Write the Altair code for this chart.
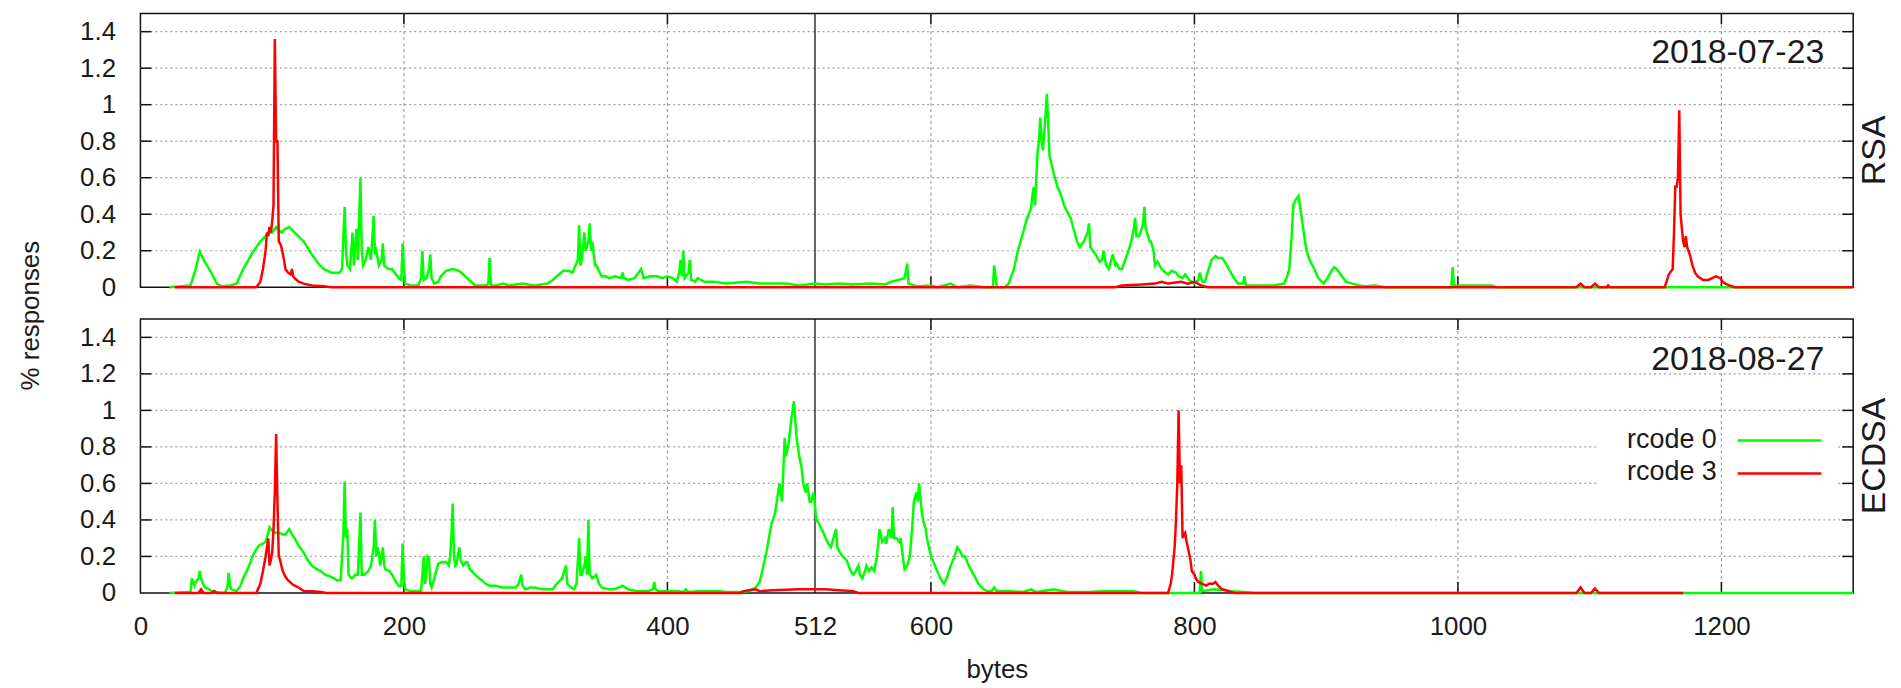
import pandas as pd
import altair as alt

# ---------------- data (bytes, % responses) ----------------
RSA_RCODE0 = [(22,0),(38,0.01),(42,0.1),(45,0.195),(48,0.15),(53,0.09),(58,0.02),(62,0.005),(68,0.01),(73,0.02),
(78,0.1),(82,0.15),(86,0.2),(91,0.25),(95,0.28),(97,0.3),(100,0.3),(103,0.33),(107,0.3),(110,0.32),(113,0.33),
(117,0.3),(121,0.27),(124,0.25),(130,0.18),(135,0.13),(139,0.1),(145,0.08),(151,0.08),(153,0.1),(155,0.44),
(156,0.2),(157,0.12),(159,0.1),(161,0.3),(162,0.12),(164,0.32),(165,0.15),(167,0.6),(168,0.2),(169,0.12),
(171,0.15),(173,0.22),(175,0.15),(177,0.39),(178,0.18),(179,0.2),(181,0.12),(183,0.15),(184,0.24),(185,0.12),
(188,0.1),(191,0.1),(194,0.07),(196,0.05),(198,0.04),(199,0.24),(200,0.1),(201,0.02),(205,0.01),(211,0.01),
(213,0.05),(214,0.2),(215,0.04),(217,0.05),(219,0.1),(220,0.18),(221,0.05),(223,0.02),(226,0.03),(228,0.06),
(232,0.09),(237,0.1),(242,0.09),(245,0.07),(248,0.05),(251,0.03),(254,0.01),(258,0.01),(262,0.01),(264,0.02),
(265,0.16),(266,0.01),(270,0.01),(275,0.02),(280,0.01),(290,0.02),(299,0.01),(309,0.02),(313,0.04),(316,0.06),
(321,0.09),(325,0.09),(328,0.08),(332,0.15),(333,0.34),(334,0.12),(335,0.15),(337,0.3),(338,0.2),(340,0.25),
(341,0.35),(342,0.2),(343,0.25),(345,0.12),(346,0.12),(350,0.06),(353,0.06),(356,0.05),(360,0.06),(365,0.05),
(366,0.08),(367,0.05),(370,0.04),(375,0.05),(380,0.1),(382,0.05),(387,0.06),(392,0.06),(396,0.05),(400,0.06),
(404,0.05),(407,0.03),(409,0.08),(410,0.15),(411,0.06),(412,0.2),(413,0.05),(416,0.08),(417,0.15),(418,0.04),
(421,0.03),(423,0.05),(428,0.03),(435,0.03),(445,0.02),(460,0.03),(470,0.02),(490,0.02),(500,0.01),(512,0.02),
(520,0.015),(530,0.02),(540,0.015),(555,0.02),(565,0.015),(570,0.03),(575,0.04),(580,0.05),(582,0.13),(583,0.02),
(590,0.005),(600,0.01),(605,0.0),(615,0.02),(620,0.0),(630,0.01),(640,0.0),(647,0.0),(648,0.12),(650,0.0),
(656,0.0),(659,0.02),(663,0.1),(666,0.2),(670,0.3),(673,0.38),(676,0.43),(677,0.5),(678,0.55),(679,0.45),
(681,0.75),(682,0.8),(683,0.93),(684,0.8),(685,0.75),(686,0.85),(687,0.95),(688,1.06),(689,0.9),(690,0.72),
(693,0.63),(696,0.55),(699,0.5),(701,0.45),(703,0.42),(706,0.38),(709,0.3),(711,0.25),(713,0.22),(716,0.25),
(719,0.3),(720,0.35),(721,0.22),(723,0.2),(725,0.18),(728,0.14),(730,0.15),(731,0.2),(733,0.12),(735,0.1),
(738,0.18),(740,0.12),(741,0.13),(743,0.1),(745,0.1),(748,0.16),(750,0.2),(752,0.25),(754,0.32),(755,0.38),
(756,0.28),(758,0.28),(760,0.32),(761,0.35),(762,0.44),(763,0.32),(764,0.3),(766,0.25),(767,0.25),(769,0.2),
(770,0.12),(772,0.14),(775,0.1),(778,0.08),(780,0.07),(783,0.09),(786,0.08),(788,0.06),(791,0.05),(793,0.07),
(796,0.04),(800,0.02),(803,0.04),(804,0.08),(806,0.03),(808,0.03),(810,0.08),(813,0.15),(816,0.17),(818,0.16),
(821,0.16),(824,0.13),(826,0.1),(830,0.05),(833,0.02),(837,0.02),(838,0.06),(839,0.01),(850,0.01),(860,0.01),
(868,0.02),(870,0.05),(872,0.1),(874,0.3),(875,0.45),(877,0.48),(879,0.5),(880,0.45),(881,0.4),(883,0.3),
(885,0.2),(888,0.14),(891,0.1),(894,0.05),(898,0.02),(901,0.05),(904,0.09),(906,0.11),(908,0.1),(911,0.07),
(915,0.03),(920,0.02),(925,0.01),(930,0.005),(937,0.01),(945,0.0),(995,0.0),(996,0.11),(997,0.01),(1007,0.01),
(1025,0.01),(1030,0.0),(1300,0.0)]

RSA_RCODE3 = [(26,0),(88,0),(91,0.03),(93,0.1),(95,0.2),(96,0.3),(97,0.28),(98,0.33),(99,0.3),(100,0.36),
(101,0.45),(102,1.36),(103,0.8),(104,0.8),(105,0.25),(106,0.24),(107,0.22),(109,0.15),(110,0.1),(112,0.08),
(114,0.07),(115,0.1),(116,0.06),(117,0.05),(120,0.03),(124,0.02),(130,0.01),(139,0.005),(145,0),(740,0),
(745,0.01),(760,0.015),(770,0.02),(775,0.03),(780,0.02),(790,0.03),(795,0.02),(800,0.03),(805,0.01),(810,0),
(1090,0),(1093,0.02),(1096,0),(1101,0),(1104,0.02),(1107,0),(1113,0),(1114,0.01),(1115,0),(1157,0),(1160,0.07),
(1163,0.1),(1164,0.3),(1165,0.55),(1166,0.55),(1167,0.6),(1168,0.97),(1169,0.4),(1170,0.32),(1171,0.25),
(1172,0.22),(1173,0.28),(1174,0.22),(1176,0.18),(1178,0.12),(1180,0.08),(1182,0.06),(1186,0.04),(1190,0.04),
(1193,0.05),(1196,0.06),(1199,0.05),(1201,0.03),(1203,0.02),(1206,0.01),(1210,0),(1300,0)]

ECDSA_RCODE0 = [(22,0),(38,0.005),(39,0.08),(41,0.04),(42,0.06),(44,0.08),(45,0.12),(46,0.08),(47,0.06),(49,0.03),
(52,0.02),(56,0.005),(64,0),(66,0.03),(67,0.11),(68,0.04),(69,0.02),(73,0.01),(76,0.04),(78,0.08),(82,0.14),
(85,0.2),(88,0.24),(90,0.26),(93,0.27),(95,0.28),(97,0.33),(98,0.36),(100,0.34),(102,0.33),(105,0.33),(108,0.32),
(110,0.32),(113,0.35),(115,0.32),(117,0.3),(120,0.26),(124,0.22),(127,0.18),(130,0.15),(134,0.13),(137,0.12),
(140,0.1),(144,0.09),(147,0.08),(149,0.07),(152,0.07),(154,0.32),(155,0.61),(156,0.3),(157,0.35),(158,0.1),
(160,0.08),(161,0.08),(163,0.1),(165,0.1),(167,0.44),(168,0.1),(170,0.1),(173,0.12),(175,0.15),(176,0.2),
(177,0.25),(178,0.4),(179,0.2),(180,0.25),(181,0.22),(182,0.15),(184,0.25),(185,0.15),(186,0.13),(189,0.12),
(191,0.1),(194,0.06),(196,0.04),(198,0.04),(199,0.27),(200,0.08),(201,0.02),(205,0.01),(208,0.01),(213,0.01),
(214,0.1),(215,0.2),(216,0.05),(217,0.1),(218,0.2),(219,0.19),(220,0.05),(221,0.03),(223,0.08),(226,0.16),
(229,0.17),(232,0.17),(234,0.15),(235,0.2),(236,0.3),(237,0.49),(238,0.2),(239,0.15),(240,0.16),(242,0.25),
(243,0.18),(245,0.15),(247,0.17),(248,0.17),(250,0.13),(254,0.1),(257,0.08),(259,0.07),(262,0.05),(265,0.04),
(270,0.04),(274,0.03),(278,0.03),(282,0.03),(285,0.03),(287,0.05),(289,0.1),(290,0.04),(292,0.02),(296,0.03),
(299,0.03),(305,0.02),(313,0.02),(316,0.05),(320,0.08),(323,0.15),(324,0.05),(327,0.03),(329,0.02),(331,0.05),
(333,0.3),(334,0.1),(335,0.1),(337,0.15),(338,0.2),(339,0.1),(340,0.4),(341,0.1),(343,0.08),(346,0.1),(348,0.05),
(350,0.03),(355,0.02),(360,0.02),(366,0.04),(370,0.02),(377,0.01),(385,0.01),(389,0.02),(390,0.06),(391,0.02),
(393,0.01),(400,0.01),(408,0.01),(412,0.005),(414,0.02),(416,0.005),(423,0.01),(430,0.01),(440,0.01),(444,0.005),
(455,0.005),(462,0.01),(467,0.03),(470,0.06),(472,0.12),(475,0.22),(477,0.3),(479,0.38),(481,0.42),(482,0.45),
(484,0.55),(485,0.6),(487,0.5),(489,0.85),(490,0.75),(492,0.82),(494,0.95),(496,1.05),(497,0.95),(498,0.85),
(500,0.75),(502,0.68),(503,0.6),(505,0.55),(506,0.6),(508,0.5),(509,0.5),(511,0.55),(513,0.4),(515,0.38),
(517,0.35),(519,0.32),(520,0.3),(522,0.27),(524,0.25),(526,0.3),(528,0.35),(529,0.25),(531,0.22),(533,0.2),
(536,0.18),(539,0.12),(541,0.1),(543,0.12),(545,0.15),(546,0.1),(548,0.08),(550,0.12),(551,0.15),(553,0.12),
(555,0.14),(557,0.12),(559,0.2),(561,0.35),(563,0.28),(565,0.3),(566,0.27),(568,0.35),(570,0.3),(571,0.47),
(572,0.3),(574,0.3),(576,0.28),(577,0.3),(579,0.18),(580,0.13),(582,0.15),(584,0.2),(586,0.38),(587,0.5),
(589,0.55),(590,0.5),(591,0.6),(593,0.45),(594,0.4),(596,0.35),(597,0.3),(600,0.2),(603,0.15),(606,0.1),
(608,0.07),(610,0.05),(612,0.08),(615,0.15),(618,0.2),(620,0.25),(622,0.23),(624,0.2),(626,0.2),(628,0.16),
(631,0.12),(634,0.08),(636,0.05),(640,0.02),(643,0.01),(646,0.01),(648,0.03),(650,0.01),(660,0.01),(670,0.005),
(676,0.02),(680,0.005),(693,0.02),(700,0.01),(703,0.005),(720,0.005),(730,0.01),(744,0.01),(754,0.01),(760,0.0),
(804,0.0),(805,0.12),(806,0.01),(815,0.02),(828,0.01),(838,0.005),(845,0.0),(1300,0.0)]

ECDSA_RCODE3 = [(26,0),(44,0),(46,0.02),(48,0),(54,0),(56,0.01),(58,0),(88,0),(91,0.05),(93,0.12),(95,0.2),
(96,0.25),(97,0.3),(98,0.15),(99,0.18),(100,0.22),(101,0.35),(102,0.55),(103,0.87),(104,0.5),(105,0.2),(106,0.18),
(108,0.12),(110,0.09),(112,0.07),(115,0.05),(117,0.04),(120,0.03),(124,0.01),(130,0.01),(137,0.005),(141,0),
(455,0),(458,0.01),(462,0.015),(467,0.02),(470,0.01),(480,0.015),(500,0.02),(520,0.02),(530,0.015),(541,0.01),
(545,0),(780,0.0),(782,0.05),(783,0.1),(785,0.25),(786,0.4),(787,0.6),(788,1.0),(789,0.6),(790,0.7),(791,0.3),
(792,0.32),(793,0.33),(794,0.28),(795,0.25),(797,0.18),(798,0.12),(800,0.1),(801,0.08),(803,0.06),(806,0.05),
(809,0.04),(811,0.05),(814,0.05),(816,0.06),(818,0.04),(821,0.02),(824,0.015),(826,0.01),(830,0),(1090,0),
(1093,0.03),(1096,0),(1101,0),(1104,0.025),(1107,0),(1171,0)]

X_LABEL_TICKS = [0, 200, 400, 512, 600, 800, 1000, 1200]
X_GRID = [200, 400, 600, 800, 1000, 1200]
Y_LABEL_TICKS = [0, 0.2, 0.4, 0.6, 0.8, 1.0, 1.2, 1.4]
Y_GRID = [0.2, 0.4, 0.6, 0.8, 1.0, 1.2, 1.4]
MARK_512 = [512]
DATES = ["2018-07-23", "2018-08-27"]
KEYS = ["RSA", "ECDSA"]
LEGEND = ["rcode 0", "rcode 3"]

# ---------------- styling ----------------
W, H = 1720, 275
FONT = "Liberation Sans"
TXT = "#1a1a1a"
GREEN = "#00ff00"
RED = "#ff0000"
GRID = "#a0a0a0"
TICK_LEN = 11
LW = 2.5

XSCALE = alt.Scale(domain=[0, 1300], nice=False, zero=False)
YSCALE = alt.Scale(domain=[0, 1.5], nice=False)


def df(pairs):
    return pd.DataFrame(pairs, columns=["bytes", "pct"])


def make_axes(bottom, ytitle):
    if bottom:
        xaxis = alt.Axis(values=X_LABEL_TICKS, format="d", labelFontSize=26, labelFont=FONT,
                         labelColor=TXT, labelPadding=21, tickSize=0, domain=False, grid=False,
                         labelFlush=False, labelOverlap=False, title="bytes", titleFont=FONT,
                         titleFontSize=26, titleFontWeight="normal", titleColor=TXT, titleY=85,
                         titleBaseline="alphabetic")
    else:
        xaxis = None
    ykw = dict(values=Y_LABEL_TICKS, format=".1~f", labelFontSize=26, labelFont=FONT,
               labelColor=TXT, labelPadding=25, tickSize=0, domain=False, grid=False,
               labelFlush=False, labelOverlap=False)
    if ytitle:
        yaxis = alt.Axis(title=ytitle, titleFont=FONT, titleFontSize=26, titleFontWeight="normal",
                         titleColor=TXT, titleX=-110, titleY=303, titleAngle=270,
                         titleAlign="center", titleBaseline="middle", **ykw)
    else:
        yaxis = alt.Axis(title=None, **ykw)
    return xaxis, yaxis


def panel(green, red, date, key, bottom):
    xaxis, yaxis = make_axes(bottom, None if bottom else "% responses")
    X = lambda: alt.X("bytes:Q", scale=XSCALE, axis=xaxis)
    Y = lambda: alt.Y("pct:Q", scale=YSCALE, axis=yaxis)

    ygrid_df = pd.DataFrame({"pct": Y_GRID})
    xgrid_df = pd.DataFrame({"bytes": X_GRID})

    layers = []
    layers.append(alt.Chart(ygrid_df).mark_rule(color=GRID, strokeDash=[2, 3], strokeWidth=1.2)
                  .encode(y=Y(), x=alt.value(0), x2=alt.value(W)))
    if bottom:
        layers.append(alt.Chart(pd.DataFrame({"k": [0]})).mark_rect(color="white")
                      .encode(x=alt.value(1464), x2=alt.value(1702), y=alt.value(98), y2=alt.value(188)))
    layers.append(alt.Chart(xgrid_df).mark_rule(color=GRID, strokeDash=[3, 3], strokeWidth=1.2)
                  .encode(x=X(), y=alt.value(0), y2=alt.value(H)))
    layers.append(alt.Chart(pd.DataFrame({"bytes": MARK_512})).mark_rule(color="#111", strokeWidth=1.3)
                  .encode(x=X(), y=alt.value(0), y2=alt.value(H)))
    # inward tick marks on all four sides
    layers.append(alt.Chart(ygrid_df).mark_rule(color="#111", strokeWidth=1.5)
                  .encode(y=Y(), x=alt.value(0), x2=alt.value(TICK_LEN)))
    layers.append(alt.Chart(ygrid_df).mark_rule(color="#111", strokeWidth=1.5)
                  .encode(y=Y(), x=alt.value(W - TICK_LEN), x2=alt.value(W)))
    layers.append(alt.Chart(xgrid_df).mark_rule(color="#111", strokeWidth=1.5)
                  .encode(x=X(), y=alt.value(0), y2=alt.value(TICK_LEN)))
    layers.append(alt.Chart(xgrid_df).mark_rule(color="#111", strokeWidth=1.5)
                  .encode(x=X(), y=alt.value(H - TICK_LEN), y2=alt.value(H)))
    # data
    layers.append(alt.Chart(df(green)).mark_line(color=GREEN, strokeWidth=LW)
                  .encode(x=X(), y=Y()))
    layers.append(alt.Chart(df(red)).mark_line(color=RED, strokeWidth=LW)
                  .encode(x=X(), y=Y()))
    # annotations
    layers.append(alt.Chart(pd.DataFrame({"t": [date]}))
                  .mark_text(align="right", baseline="alphabetic", fontSize=34, font=FONT, color=TXT)
                  .encode(text="t:N", x=alt.value(W - 29), y=alt.value(50 if not bottom else 51)))
    layers.append(alt.Chart(pd.DataFrame({"t": [key]}))
                  .mark_text(align="center", baseline="middle", angle=270, fontSize=34, font=FONT, color=TXT)
                  .encode(text="t:N", x=alt.value(W + 22), y=alt.value(H / 2)))
    if bottom:
        for i, (lab, col) in enumerate(zip(LEGEND, [GREEN, RED])):
            yy = 122 + 33 * i
            layers.append(alt.Chart(pd.DataFrame({"t": [lab]}))
                          .mark_text(align="right", baseline="middle", fontSize=27, font=FONT, color=TXT)
                          .encode(text="t:N", x=alt.value(1583), y=alt.value(yy - 1)))
            layers.append(alt.Chart(pd.DataFrame({"t": [lab]}))
                          .mark_rule(color=col, strokeWidth=LW)
                          .encode(x=alt.value(1604), x2=alt.value(1688), y=alt.value(yy)))
    return alt.layer(*layers).properties(width=W, height=H)


top = panel(RSA_RCODE0, RSA_RCODE3, DATES[0], KEYS[0], bottom=False)
bot = panel(ECDSA_RCODE0, ECDSA_RCODE3, DATES[1], KEYS[1], bottom=True)

chart = (alt.vconcat(top, bot, spacing=32, bounds="flush")
         .properties(padding={"left": 9, "top": 2, "right": 0, "bottom": 0}, background="white")
         .configure_view(stroke="#111", strokeWidth=1.5))

chart.save("out.html", embed_options={"renderer": "svg", "actions": False})
